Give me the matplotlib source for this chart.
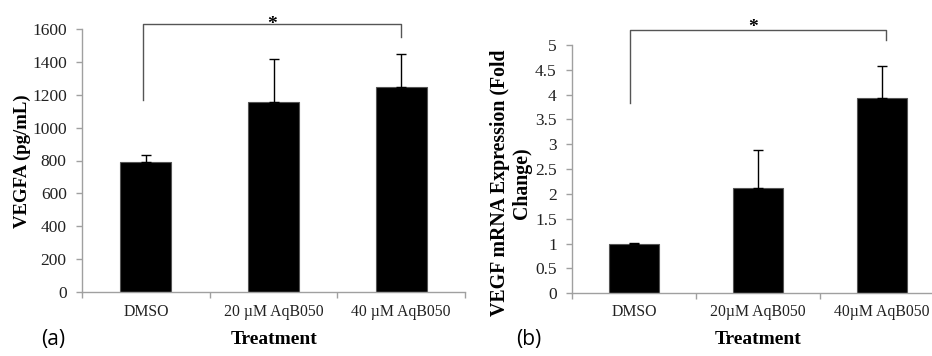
import matplotlib
matplotlib.use("Agg")
import matplotlib.pyplot as plt
import numpy as np

# Data
cats_a = ["DMSO", "20 µM AqB050", "40 µM AqB050"]
vals_a = [790, 1158, 1245]
err_a = [45, 260, 205]

cats_b = ["DMSO", "20µM AqB050", "40µM AqB050"]
vals_b = [1.0, 2.13, 3.94]
err_b = [0.01, 0.76, 0.64]

yticks_a = [0, 200, 400, 600, 800, 1000, 1200, 1400, 1600]
yticks_b = [0, 0.5, 1, 1.5, 2, 2.5, 3, 3.5, 4, 4.5, 5]

W, H = 932, 356
fig = plt.figure(figsize=(W / 100, H / 100), dpi=100)
SERIF = ["Liberation Serif", "DejaVu Serif"]
AXC = "#a0a0a0"
BRC = "#555555"
TXC = "#222222"

def px(x0, y0, x1, y1):
    return [x0 / W, 1 - y1 / H, (x1 - x0) / W, (y1 - y0) / H]

def style(ax, cats, yticks, ylim):
    x = np.arange(len(cats))
    ax.set_xlim(-0.5, len(cats) - 0.5)
    ax.set_ylim(*ylim)
    for s in ["top", "right"]:
        ax.spines[s].set_visible(False)
    for s in ["left", "bottom"]:
        ax.spines[s].set_color(AXC)
        ax.spines[s].set_linewidth(1.0)
    ax.set_yticks(yticks)
    ax.set_yticklabels([("%g" % t) for t in yticks], fontfamily=SERIF, fontsize=12.5, color=TXC)
    ax.tick_params(axis="y", length=4, width=1, color=AXC, pad=7)
    ax.set_xticks(np.arange(len(cats) + 1) - 0.5)
    ax.set_xticklabels([])
    ax.tick_params(axis="x", length=4, width=1, color=AXC)
    for xi, c in zip(x, cats):
        ax.text(xi, -0.075, c, transform=ax.get_xaxis_transform(), ha="center", va="center",
                fontfamily=SERIF, fontsize=11.3, color=TXC)
    return x

# Panel (a)
ax1 = fig.add_axes(px(82, 29, 465, 292))
x1 = style(ax1, cats_a, yticks_a, (0, 1600))
ax1.bar(x1, vals_a, width=0.4, color="black", edgecolor="#555555", linewidth=0.8, zorder=2)
ax1.errorbar(x1, vals_a, yerr=[np.zeros(len(vals_a)), err_a], fmt="none", ecolor="black",
             elinewidth=1.0, capsize=3.6, capthick=1.0, zorder=3)
ax1.plot([-0.02, -0.02, 2.0, 2.0], [1168, 1629, 1629, 1553], color=BRC, lw=1.0, clip_on=False)
ax1.text(0.99, 1630, "*", ha="center", va="center", fontsize=14, fontweight="bold", fontfamily=SERIF,
         clip_on=False)

fig.text(22 / W, 1 - 161 / H, "VEGFA (pg/mL)", rotation=90, ha="center", va="center",
         fontfamily=SERIF, fontsize=13.5, fontweight="bold")

# Panel (b)
ax2 = fig.add_axes(px(572, 45, 944, 293.3))
x2 = style(ax2, cats_b, yticks_b, (0, 5))
ax2.bar(x2, vals_b, width=0.4, color="black", edgecolor="#555555", linewidth=0.8, zorder=2)
ax2.errorbar(x2, vals_b, yerr=[np.zeros(len(vals_b)), err_b], fmt="none", ecolor="black",
             elinewidth=1.0, capsize=3.6, capthick=1.0, zorder=3)
ax2.plot([-0.03, -0.03, 2.03, 2.03], [3.84, 5.31, 5.31, 5.11], color=BRC, lw=1.0, clip_on=False)
ax2.text(0.96, 5.36, "*", ha="center", va="center", fontsize=14, fontweight="bold", fontfamily=SERIF,
         clip_on=False)

fig.text(511 / W, 1 - 183 / H, "VEGF mRNA Expression (Fold\nChange)", rotation=90, ha="center",
         va="center", fontfamily=SERIF, fontsize=14.3, fontweight="bold", linespacing=1.15)

# Treatment labels and panel letters
fig.text(274 / W, 1 - 339 / H, "Treatment", ha="center", va="center", fontfamily=SERIF,
         fontsize=14, fontweight="bold")
fig.text(758 / W, 1 - 339 / H, "Treatment", ha="center", va="center", fontfamily=SERIF,
         fontsize=14, fontweight="bold")
fig.text(53 / W, 1 - 340 / H, "(a)", ha="center", va="center", fontfamily=["Open Sans", "DejaVu Sans"],
         fontsize=15)
fig.text(529 / W, 1 - 340 / H, "(b)", ha="center", va="center", fontfamily=["Open Sans", "DejaVu Sans"],
         fontsize=15)

fig.savefig("out.png", dpi=100, facecolor="white")
